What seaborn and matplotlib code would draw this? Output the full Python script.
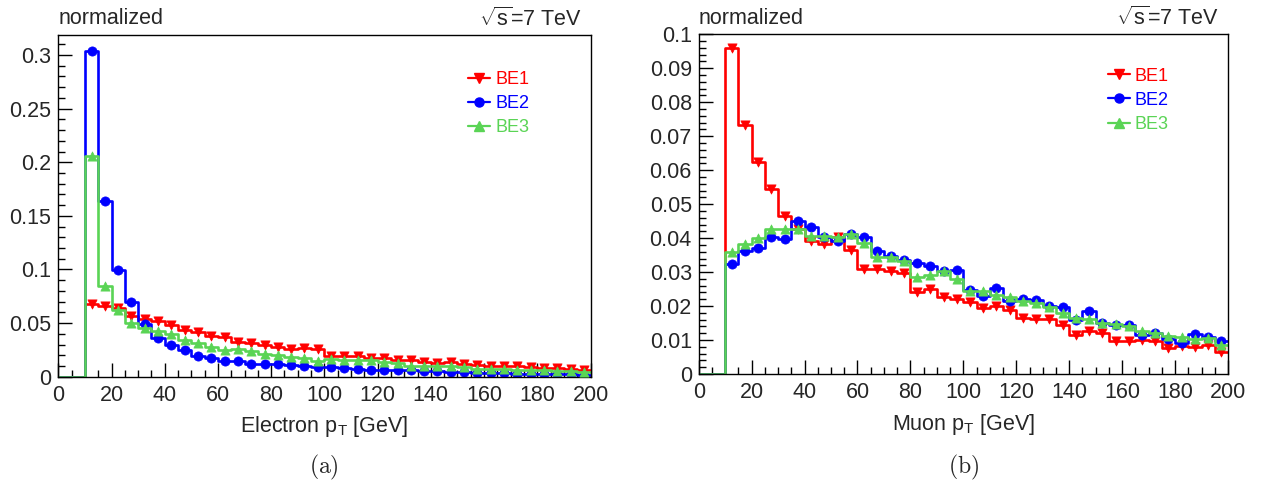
import numpy as np
import pandas as pd
import matplotlib
matplotlib.use("Agg")
import matplotlib.pyplot as plt
from matplotlib.lines import Line2D
from matplotlib.ticker import MultipleLocator, FuncFormatter
import seaborn as sns

# ---------------------------------------------------------------- data
bin_edges = np.arange(0, 205, 5)          # 5 GeV bins, 0-200 GeV
samples = ["BE1", "BE2", "BE3"]
below_threshold = [0.0, 0.0]              # 0-10 GeV bins are empty

electron_be1 = [0.068, 0.066, 0.0637, 0.057, 0.054, 0.052, 0.0485, 0.0435, 0.042, 0.038,
                0.037, 0.0323, 0.0311, 0.0292, 0.0274, 0.0255, 0.0264, 0.0255, 0.0196, 0.0196,
                0.019, 0.0177, 0.0177, 0.0158, 0.0152, 0.0137, 0.0128, 0.0134, 0.0118, 0.0112,
                0.0096, 0.0102, 0.0102, 0.009, 0.0084, 0.0081, 0.0075, 0.0065]
electron_be2 = [0.304, 0.164, 0.0997, 0.070, 0.049, 0.036, 0.030, 0.025, 0.0196, 0.017,
                0.015, 0.0143, 0.0118, 0.0118, 0.0118, 0.0106, 0.0103, 0.0087, 0.009, 0.0081,
                0.0075, 0.0065, 0.0065, 0.0059, 0.0059, 0.0056, 0.005, 0.0044, 0.004, 0.0034,
                0.0034, 0.0034, 0.0028, 0.0025, 0.0025, 0.0022, 0.0022, 0.0019]
electron_be3 = [0.206, 0.085, 0.0624, 0.0503, 0.0454, 0.0422, 0.040, 0.0345, 0.0314, 0.0277,
                0.0252, 0.0255, 0.0236, 0.0211, 0.0202, 0.0186, 0.0171, 0.0149, 0.0165, 0.0158,
                0.0152, 0.0152, 0.0137, 0.0128, 0.0102, 0.0102, 0.0096, 0.0096, 0.009, 0.0075,
                0.0075, 0.0075, 0.0065, 0.0065, 0.0065, 0.0056, 0.005, 0.0044]

muon_be1 = [0.0961, 0.0734, 0.0624, 0.0545, 0.0466, 0.0426, 0.0391, 0.0384, 0.0402, 0.0364,
            0.031, 0.0308, 0.0303, 0.0296, 0.0241, 0.0251, 0.0226, 0.0222, 0.0212, 0.0194,
            0.0199, 0.0189, 0.0166, 0.0163, 0.0163, 0.0143, 0.0116, 0.0126, 0.0121, 0.0098,
            0.0096, 0.0101, 0.0098, 0.0076, 0.0082, 0.0079, 0.0084, 0.0064]
muon_be2 = [0.0325, 0.0362, 0.0372, 0.0403, 0.0396, 0.045, 0.0432, 0.0402, 0.0392, 0.0412,
            0.0402, 0.0362, 0.0348, 0.0337, 0.0328, 0.0317, 0.0303, 0.0305, 0.0248, 0.0229,
            0.0253, 0.0214, 0.0222, 0.0219, 0.02, 0.0197, 0.0158, 0.0184, 0.015, 0.0143,
            0.0145, 0.0115, 0.012, 0.0103, 0.0092, 0.0118, 0.011, 0.0096]
muon_be3 = [0.0358, 0.0382, 0.0399, 0.0426, 0.0426, 0.0426, 0.0407, 0.0407, 0.0402, 0.0412,
            0.0386, 0.0345, 0.0343, 0.0333, 0.0286, 0.029, 0.0302, 0.0281, 0.0244, 0.0243,
            0.0234, 0.0226, 0.0215, 0.0209, 0.0197, 0.0179, 0.0164, 0.0163, 0.015, 0.0148,
            0.0141, 0.0126, 0.0122, 0.0113, 0.0108, 0.0103, 0.0106, 0.0086]

x_labels = [r"Electron p$_{\mathrm{T}}$ [GeV]", r"Muon p$_{\mathrm{T}}$ [GeV]"]
panel_tags = ["(a)", "(b)"]

# ---------------------------------------------------------------- style
colors = {"BE1": "#ff0000", "BE2": "#0000ff", "BE3": "#5ad455"}
markers = {"BE1": "v", "BE2": "o", "BE3": "^"}

sns.set_style("ticks")
plt.rcParams["font.family"] = ["Liberation Sans", "DejaVu Sans"]
plt.rcParams["mathtext.fontset"] = "custom"
plt.rcParams["mathtext.rm"] = "Liberation Sans"
plt.rcParams["mathtext.it"] = "Liberation Sans:italic"
plt.rcParams["mathtext.bf"] = "Liberation Sans:bold"

W, H = 1261, 483
fig = plt.figure(figsize=(W / 100, H / 100), dpi=100)


def frac(x0, y0, x1, y1):
    return [x0 / W, 1 - y1 / H, (x1 - x0) / W, (y1 - y0) / H]


ax_e = fig.add_axes(frac(58.3, 35, 590.5, 376.7))
ax_m = fig.add_axes(frac(698.7, 34.3, 1228, 374))


def panel_frame(name, values):
    centers = (bin_edges[:-1] + bin_edges[1:]) / 2
    full = below_threshold + list(values)
    return pd.DataFrame({"pt": centers, "frac": full, "sample": name})


def draw_panel(ax, series, ymax, major, minor, xlabel, tag, legend_xy):
    z = 2.0
    for name, vals in zip(samples, series):
        df = panel_frame(name, vals)
        sns.histplot(data=df, x="pt", weights="frac", binwidth=5, binrange=(0, 200),
                     element="step", fill=False, color=colors[name],
                     linewidth=1.9, ax=ax, zorder=z)
        filled = df[df["frac"] > 0]
        sns.scatterplot(data=filled, x="pt", y="frac", marker=markers[name],
                        color=colors[name], edgecolor=colors[name], linewidth=0.5,
                        s=44, ax=ax, zorder=z + 0.1, legend=False)
        z += 0.2

    ax.set_xlim(0, 200)
    ax.set_ylim(0, ymax)
    ax.xaxis.set_major_locator(MultipleLocator(20))
    ax.xaxis.set_minor_locator(MultipleLocator(5))
    ax.yaxis.set_major_locator(MultipleLocator(major))
    ax.yaxis.set_minor_locator(MultipleLocator(minor))
    ax.yaxis.set_major_formatter(FuncFormatter(lambda v, p: f"{round(v, 4):g}"))
    ax.tick_params(which="both", direction="in", top=False, right=False,
                   width=1.0, color="black", labelsize=15.5)
    ax.tick_params(which="major", length=10)
    ax.tick_params(which="minor", length=5)
    ax.tick_params(axis="x", pad=6)
    ax.tick_params(axis="y", pad=5)
    for s in ax.spines.values():
        s.set_visible(True)
        s.set_color("black")
        s.set_linewidth(1.0)
    ax.set_xlabel(xlabel, fontsize=15.5, labelpad=6)
    ax.set_ylabel("")

    ax.text(0.0, 1.047, "normalized", transform=ax.transAxes, ha="left",
            va="center", fontsize=15.5)
    ax.text(0.983, 1.047, r"$\sqrt{\mathrm{s}}$=7 TeV", transform=ax.transAxes,
            ha="right", va="center", fontsize=15.5)

    handles = [Line2D([], [], color=colors[n], marker=markers[n], markersize=6.5,
                      linewidth=1.6) for n in samples]
    ax.legend(handles, samples, loc="upper left", bbox_to_anchor=legend_xy,
              frameon=False, fontsize=13, labelcolor="linecolor",
              handlelength=1.2, handletextpad=0.3, labelspacing=0.4,
              borderpad=0, borderaxespad=0)

    bbox = ax.get_position()
    fig.text((bbox.x0 + bbox.x1) / 2, 1 - 467 / H, r"$\mathrm{" + tag + "}$",
             ha="center", va="center", fontsize=17, math_fontfamily="cm")


draw_panel(ax_e, [electron_be1, electron_be2, electron_be3], 0.3187, 0.05, 0.01,
           x_labels[0], panel_tags[0], (0.770, 0.895))
draw_panel(ax_m, [muon_be1, muon_be2, muon_be3], 0.1, 0.01, 0.002,
           x_labels[1], panel_tags[1], (0.773, 0.902))

fig.savefig("out.png", dpi=100, facecolor="white")
